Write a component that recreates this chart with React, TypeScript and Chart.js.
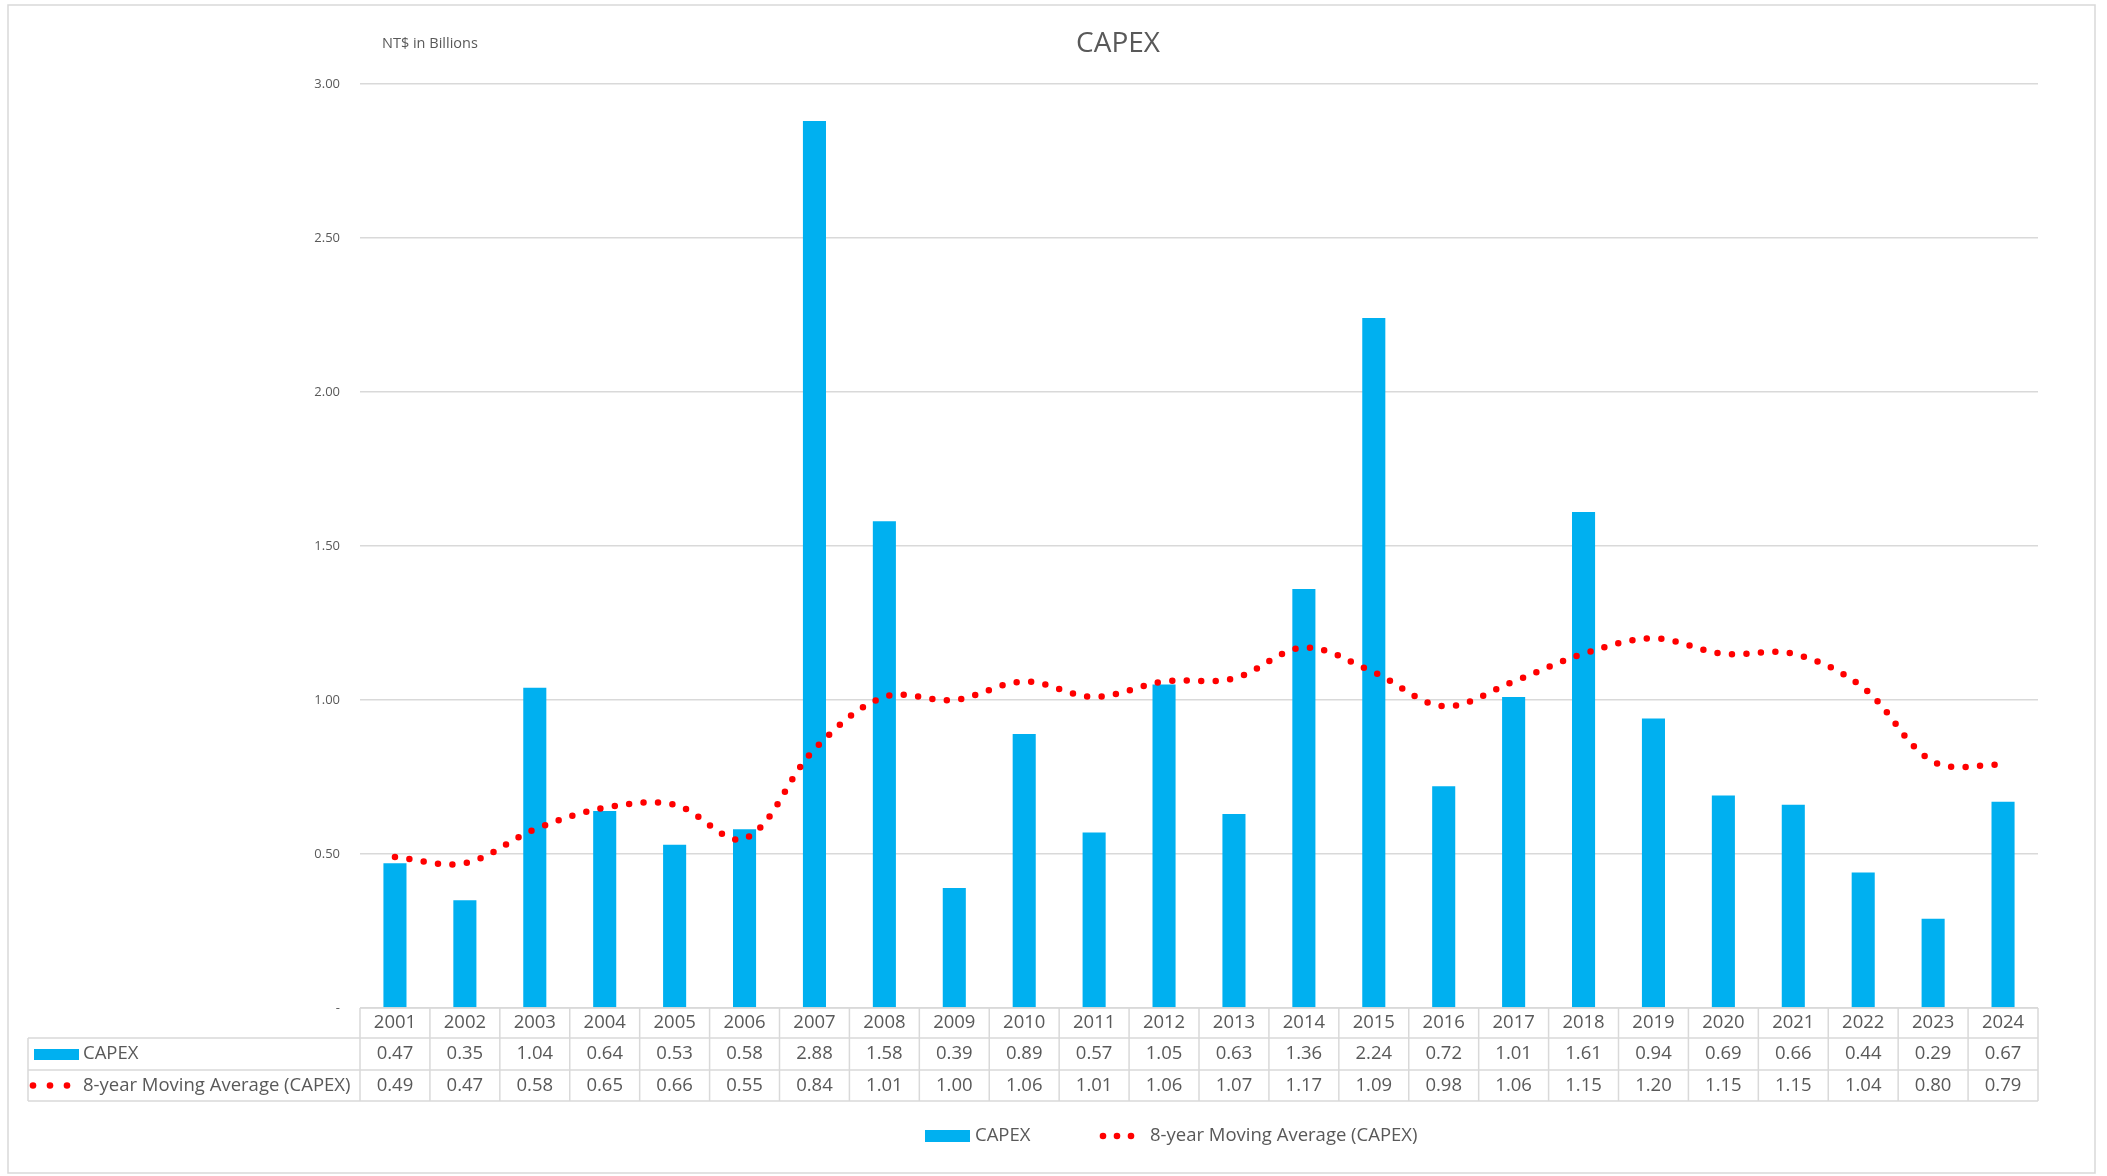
import React, { useEffect, useRef } from "react";
import Chart from "chart.js/auto";

const categories = ["2001","2002","2003","2004","2005","2006","2007","2008","2009","2010","2011","2012","2013","2014","2015","2016","2017","2018","2019","2020","2021","2022","2023","2024"];
const capex = [0.47,0.35,1.04,0.64,0.53,0.58,2.88,1.58,0.39,0.89,0.57,1.05,0.63,1.36,2.24,0.72,1.01,1.61,0.94,0.69,0.66,0.44,0.29,0.67];
const movingAvg = [0.49,0.47,0.58,0.65,0.66,0.55,0.84,1.01,1.00,1.06,1.01,1.06,1.07,1.17,1.09,0.98,1.06,1.15,1.20,1.15,1.15,1.04,0.80,0.79];
const seriesNames = ["CAPEX", "8-year Moving Average (CAPEX)"];
const chartTitle = "CAPEX";
const axisTitle = "NT$ in Billions";
const yTicks = { min: 0, max: 3, step: 0.5 };

const BLUE = "#00B0F0";
const RED = "#FF0000";
const TEXT = "#595959";
const GRID = "#d9d9d9";
const FONT = "'Open Sans', 'Liberation Sans', sans-serif";

const tablePlugin = {
  id: "capexTable",
  beforeDraw(chart: any) {
    const ctx = chart.ctx;
    ctx.save();
    ctx.fillStyle = "#ffffff";
    ctx.fillRect(0, 0, chart.width, chart.height);
    ctx.strokeStyle = GRID;
    ctx.lineWidth = 1.5;
    ctx.strokeRect(8, 5, 2087, 1168);
    ctx.restore();
  },
  afterDraw(chart: any) {
    const ctx = chart.ctx;
    const area = chart.chartArea;
    const xs = chart.scales.x;
    const n = categories.length;
    const step = xs.getPixelForValue(1) - xs.getPixelForValue(0);
    const top = area.bottom;
    const rows = [top, top + 30, top + 62, top + 93];
    const tableLeft = 28;

    ctx.save();
    // title
    ctx.fillStyle = TEXT;
    ctx.textBaseline = "middle";
    ctx.textAlign = "center";
    ctx.font = `28px ${FONT}`;
    ctx.fillText(chartTitle, 1118, 44);
    ctx.textAlign = "left";
    ctx.font = `14.5px ${FONT}`;
    ctx.fillText(axisTitle, area.left + 22, 44);

    // table lines
    ctx.strokeStyle = GRID;
    ctx.lineWidth = 1.5;
    ctx.beginPath();
    ctx.moveTo(area.left, rows[0]);
    ctx.lineTo(area.right, rows[0]);
    for (let r = 1; r < 4; r++) {
      ctx.moveTo(tableLeft, rows[r]);
      ctx.lineTo(area.right, rows[r]);
    }
    ctx.moveTo(tableLeft, rows[1]);
    ctx.lineTo(tableLeft, rows[3]);
    for (let i = 0; i <= n; i++) {
      const x = xs.getPixelForValue(0) - step / 2 + i * step;
      ctx.moveTo(x, rows[0]);
      ctx.lineTo(x, rows[3]);
    }
    ctx.stroke();

    // table text
    ctx.fillStyle = TEXT;
    ctx.font = `18.5px ${FONT}`;
    ctx.textAlign = "center";
    ctx.textBaseline = "middle";
    for (let i = 0; i < n; i++) {
      const x = xs.getPixelForValue(i);
      ctx.fillText(categories[i], x, (rows[0] + rows[1]) / 2);
      ctx.fillText(capex[i].toFixed(2), x, (rows[1] + rows[2]) / 2);
      ctx.fillText(movingAvg[i].toFixed(2), x, (rows[2] + rows[3]) / 2);
    }
    // row labels
    const r1 = (rows[1] + rows[2]) / 2;
    const r2 = (rows[2] + rows[3]) / 2;
    ctx.fillStyle = BLUE;
    ctx.fillRect(34, r1 - 5, 45, 11);
    ctx.fillStyle = RED;
    [33, 50, 67].forEach((dx) => {
      ctx.beginPath();
      ctx.arc(dx, r2, 3.3, 0, Math.PI * 2);
      ctx.fill();
    });
    ctx.fillStyle = TEXT;
    ctx.textAlign = "left";
    ctx.fillText(seriesNames[0], 83, r1);
    ctx.fillText(seriesNames[1], 83, r2);

    // legend
    const ly = 1136;
    ctx.fillStyle = BLUE;
    ctx.fillRect(925, ly - 6, 45, 12);
    ctx.fillStyle = RED;
    [1103, 1117, 1131].forEach((dx) => {
      ctx.beginPath();
      ctx.arc(dx, ly, 3.3, 0, Math.PI * 2);
      ctx.fill();
    });
    ctx.fillStyle = TEXT;
    ctx.fillText(seriesNames[0], 975, ly);
    ctx.fillText(seriesNames[1], 1150, ly);
    ctx.restore();
  },
};

export default function App() {
  const ref = useRef<HTMLCanvasElement | null>(null);
  useEffect(() => {
    if (!ref.current) return;
    const chart = new Chart(ref.current, {
      type: "bar",
      data: {
        labels: categories,
        datasets: [
          {
            type: "line",
            label: seriesNames[1],
            data: movingAvg,
            borderColor: RED,
            backgroundColor: RED,
            borderWidth: 6.5,
            borderDash: [0, 14.5],
            borderCapStyle: "round",
            pointRadius: 0,
            tension: 0.35,
            fill: false,
            order: 0,
          } as any,
          {
            type: "bar",
            label: seriesNames[0],
            data: capex,
            backgroundColor: BLUE,
            barPercentage: 1,
            categoryPercentage: 0.33,
            order: 1,
          },
        ],
      },
      options: {
        responsive: false,
        animation: false,
        devicePixelRatio: 1,
        layout: { padding: { top: 84, right: 69, bottom: 168, left: 0 } },
        plugins: {
          legend: { display: false },
          title: { display: false },
          tooltip: { enabled: false },
        },
        scales: {
          x: { display: false },
          y: {
            min: yTicks.min,
            max: yTicks.max,
            afterFit: (s: any) => { s.width = 360; },
            ticks: {
              stepSize: yTicks.step,
              color: TEXT,
              font: { size: 13, family: FONT },
              padding: 20,
              callback: (v: any) => (Number(v) === 0 ? "-" : Number(v).toFixed(2)),
            },
            grid: { color: GRID, lineWidth: 1.5, drawTicks: false },
            border: { display: false },
          },
        },
      } as any,
      plugins: [tablePlugin],
    });
    let alive = true;
    (document as any).fonts?.ready?.then(() => { if (alive) chart.update(); });
    return () => { alive = false; chart.destroy(); };
  }, []);
  return (
    <div style={{ position: "absolute", left: 0, top: 0, width: 2107, height: 1176, background: "#fff" }}>
      <canvas ref={ref} width={2107} height={1176} style={{ display: "block" }} />
    </div>
  );
}
